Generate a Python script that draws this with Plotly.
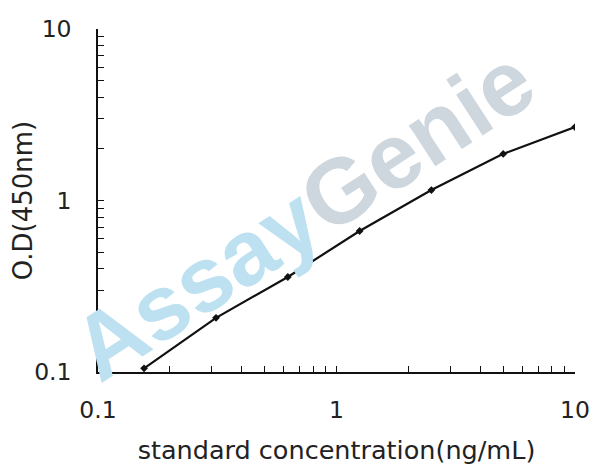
import plotly.graph_objects as go

concentration = [0.156, 0.3125, 0.625, 1.25, 2.5, 5, 10]
od450 = [0.105, 0.207, 0.358, 0.664, 1.15, 1.87, 2.68]

x_ticks = [0.1, 1, 10]
x_tick_labels = ["0.1", "1", "10"]
y_ticks = [0.1, 1, 10]
y_tick_labels = ["0.1", "1", "10"]

FONT = "DejaVu Sans"

fig = go.Figure()
fig.add_trace(go.Scatter(
    x=concentration, y=od450, mode="lines+markers",
    line=dict(color="#111111", width=2.2),
    marker=dict(symbol="diamond", size=6, color="#111111"),
    showlegend=False,
))

fig.add_annotation(
    text="<span style='color:#bde1f1'>Assay</span><span style='color:#ced6de'>Genie</span>",
    xref="paper", yref="paper", x=0.43, y=0.46,
    showarrow=False, textangle=-33,
    font=dict(family="Liberation Sans", size=92, weight="bold"),
)

axis_common = dict(
    type="log", showgrid=False, zeroline=False, automargin=False,
    showline=True, linecolor="#111111", linewidth=1.5,
    ticks="inside", ticklen=6, tickcolor="#111111", tickwidth=1.2,
    minor=dict(ticks="inside", ticklen=6, tickcolor="#111111", tickwidth=1.2,
               dtick="D1"),
    tickfont=dict(family=FONT, size=23.5, color="#222222"),
    mirror=False,
)

fig.update_xaxes(
    **axis_common, range=[-1, 1], ticklabelstandoff=16,
    tickvals=x_ticks, ticktext=x_tick_labels,
    title=dict(text="standard concentration(ng/mL)",
               font=dict(family=FONT, size=25.5, color="#222222"), standoff=18),
)
fig.update_yaxes(
    **axis_common, range=[-1, 1], ticklabelstandoff=20,
    tickvals=y_ticks, ticktext=y_tick_labels,
    title=dict(text="O.D(450nm)",
               font=dict(family=FONT, size=26, color="#222222"), standoff=4),
)

fig.update_layout(
    width=608, height=476,
    margin=dict(l=90, r=41, t=21, b=112),
    paper_bgcolor="white", plot_bgcolor="white",
)

fig.write_html("out.html")
